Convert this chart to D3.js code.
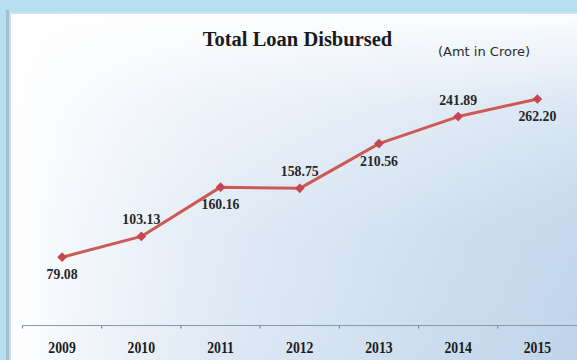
<!DOCTYPE html>
<html>
<head>
<meta charset="utf-8">
<script src="https://cdn.jsdelivr.net/npm/d3@7/dist/d3.min.js"></script>
<style>
  html, body { margin: 0; padding: 0; background: #b6deef; }
  svg { display: block; }
</style>
</head>
<body>
<script>
// Total loan disbursed per year (Amt in Crore)
const years = ["2009", "2010", "2011", "2012", "2013", "2014", "2015"];
const loans = [79.08, 103.13, 160.16, 158.75, 210.56, 241.89, 262.20];
// value label placement: 1 = above the marker, -1 = below
const labelSide = [-1, 1, -1, 1, -1, 1, -1];

const W = 577, H = 360;
const SERIF = "'Liberation Serif', 'Times New Roman', serif";
const svg = d3.select("body").append("svg").attr("width", W).attr("height", H);
const defs = svg.append("defs");

// panel shading: white on the left fading to pale blue on the right
const gH = defs.append("linearGradient").attr("id", "panelH")
  .attr("x1", "0").attr("y1", "0").attr("x2", "1").attr("y2", "0");
gH.append("stop").attr("offset", "0").attr("stop-color", "#ffffff");
gH.append("stop").attr("offset", "0.07").attr("stop-color", "#f6f9fd");
gH.append("stop").attr("offset", "0.35").attr("stop-color", "#dfe9f5");
gH.append("stop").attr("offset", "1").attr("stop-color", "#bdd3ea");
// lighter top area
const gV = defs.append("linearGradient").attr("id", "panelV")
  .attr("x1", "0").attr("y1", "0").attr("x2", "0").attr("y2", "1");
gV.append("stop").attr("offset", "0").attr("stop-color", "#ffffff").attr("stop-opacity", 0.95);
gV.append("stop").attr("offset", "0.25").attr("stop-color", "#ffffff").attr("stop-opacity", 0.45);
gV.append("stop").attr("offset", "0.6").attr("stop-color", "#ffffff").attr("stop-opacity", 0.1);
gV.append("stop").attr("offset", "1").attr("stop-color", "#ffffff").attr("stop-opacity", 0);

// outer frame
svg.append("rect").attr("width", W).attr("height", H).attr("fill", "#b6deef");
svg.append("rect").attr("x", 6).attr("y", 10).attr("width", 3).attr("height", H)
  .attr("fill", "#9fc2d2");
svg.append("rect").attr("x", 10).attr("y", 12).attr("width", W).attr("height", H)
  .attr("fill", "#cfe3ee");
svg.append("rect").attr("x", 11).attr("y", 14).attr("width", W).attr("height", H)
  .attr("fill", "url(#panelH)");
svg.append("rect").attr("x", 11).attr("y", 14).attr("width", W).attr("height", H)
  .attr("fill", "url(#panelV)");

// scales
const x = d3.scaleBand().domain(years).range([22.5, 577]);
const cx = d => x(d) + x.bandwidth() / 2;
const y = d3.scaleLinear().domain([0, 262.20]).range([325.5, 99]);

// x axis: baseline with tick marks at category boundaries
const axisG = svg.append("g");
axisG.append("line")
  .attr("x1", x.range()[0]).attr("x2", W).attr("y1", y(0)).attr("y2", y(0))
  .attr("stroke", "#8c9aa6").attr("stroke-width", 1.2);
axisG.selectAll("line.tick").data(years.map(d => x(d))).join("line").attr("class", "tick")
  .attr("x1", d => d).attr("x2", d => d)
  .attr("y1", y(0)).attr("y2", y(0) + 3)
  .attr("stroke", "#7d8a96").attr("stroke-width", 1.2);
axisG.selectAll("text").data(years).join("text")
  .attr("transform", d => `translate(${cx(d)},352.5) scale(0.86,1)`)
  .attr("text-anchor", "middle")
  .attr("font-family", SERIF)
  .attr("font-weight", "bold")
  .attr("font-size", 16)
  .attr("fill", "#1c1c1c")
  .text(d => d);

// line
const pts = years.map((d, i) => [cx(d), y(loans[i])]);
svg.append("path")
  .attr("d", d3.line()(pts))
  .attr("fill", "none")
  .attr("stroke", "#cc5a55")
  .attr("stroke-width", 3)
  .attr("stroke-linejoin", "round");

// diamond markers
svg.selectAll("path.mark").data(pts).join("path").attr("class", "mark")
  .attr("d", d3.symbol().type(d3.symbolDiamond2).size(60))
  .attr("transform", d => `translate(${d[0]},${d[1]})`)
  .attr("fill", "#c8454f");

// value labels
svg.selectAll("text.val").data(loans).join("text").attr("class", "val")
  .attr("transform", (d, i) =>
    `translate(${cx(years[i])},${y(d) + (labelSide[i] > 0 ? -12 : 22)}) scale(0.92,1)`)
  .attr("text-anchor", "middle")
  .attr("font-family", SERIF)
  .attr("font-weight", "bold")
  .attr("font-size", 15)
  .attr("fill", "#262626")
  .text(d => d.toFixed(2));

// titles
svg.append("text")
  .attr("x", 297.5).attr("y", 46)
  .attr("text-anchor", "middle")
  .attr("font-family", SERIF)
  .attr("font-weight", "bold")
  .attr("font-size", 20.5)
  .attr("fill", "#1a1a1a")
  .text("Total Loan Disbursed");
svg.append("text")
  .attr("x", 484).attr("y", 56)
  .attr("text-anchor", "middle")
  .attr("font-family", "'DejaVu Sans', sans-serif")
  .attr("font-size", 13)
  .attr("fill", "#2a2a2a")
  .text("(Amt in Crore)");
</script>
</body>
</html>
